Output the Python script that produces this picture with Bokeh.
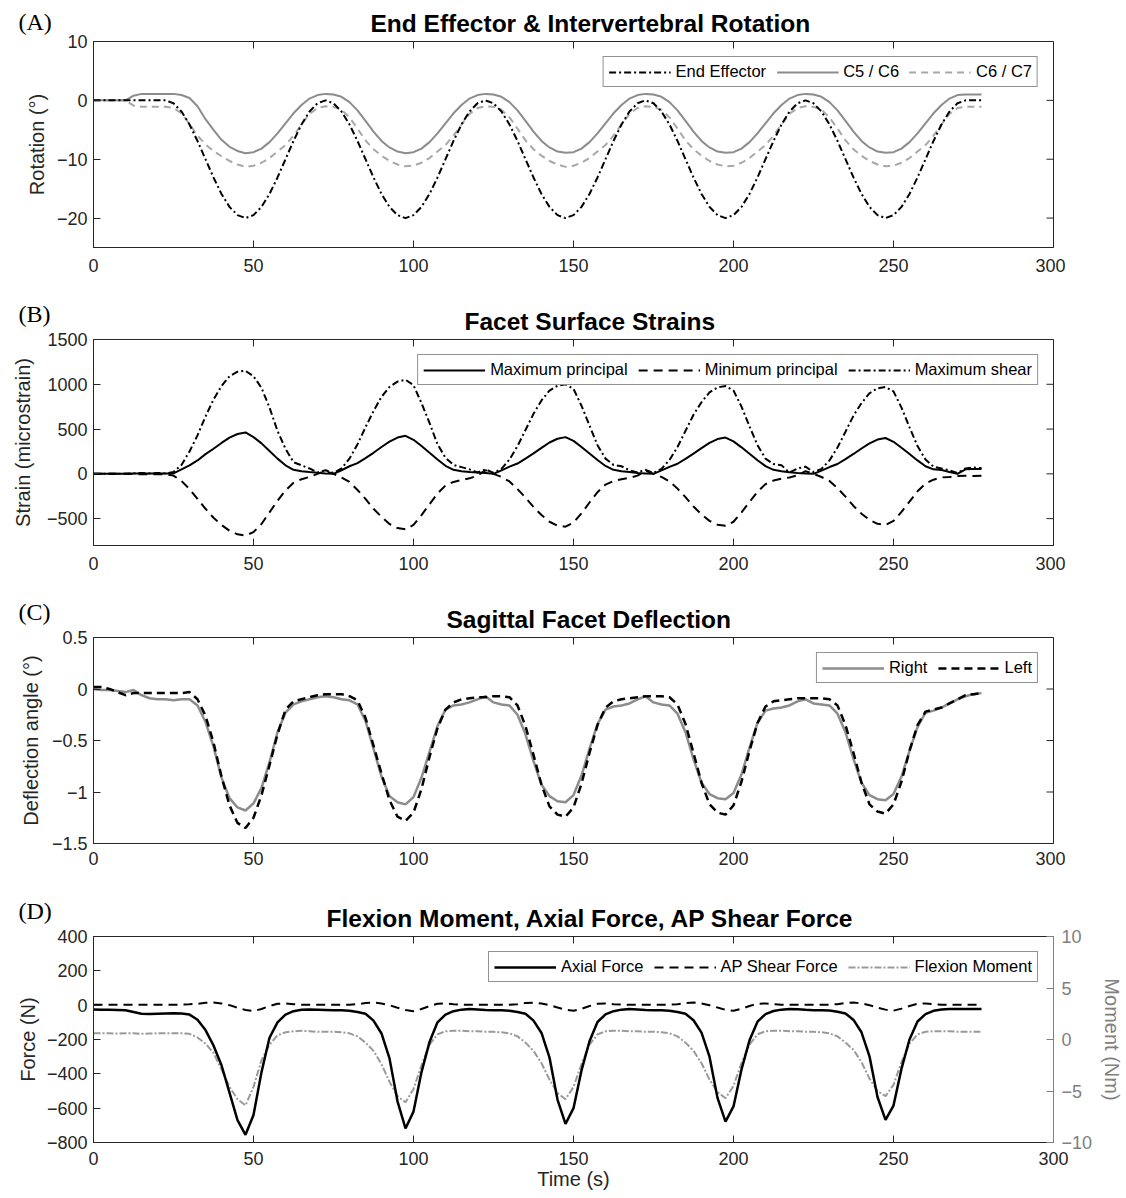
from bokeh.plotting import figure
from bokeh.models import (ColumnDataSource, Range1d, LinearAxis, FixedTicker,
                          Legend, LegendItem, Title)
from bokeh.layouts import column
from bokeh.embed import file_html
from bokeh.resources import INLINE

# ---------------- data ----------------
time_s = [0, 2.5, 5, 7.5, 10, 12.5, 15, 17.5, 20, 22.5,
          25, 27.5, 30, 32.5, 35, 37.5, 40, 42.5, 45, 47.5, 50, 52.5, 55, 57.5, 60, 62.5, 65, 67.5, 70, 72.5,
          75, 77.5, 80, 82.5, 85, 87.5, 90, 92.5, 95, 97.5, 100, 102.5, 105, 107.5, 110, 112.5, 115, 117.5, 120, 122.5,
          125, 127.5, 130, 132.5, 135, 137.5, 140, 142.5, 145, 147.5, 150, 152.5, 155, 157.5, 160, 162.5, 165, 167.5, 170, 172.5,
          175, 177.5, 180, 182.5, 185, 187.5, 190, 192.5, 195, 197.5, 200, 202.5, 205, 207.5, 210, 212.5, 215, 217.5, 220, 222.5,
          225, 227.5, 230, 232.5, 235, 237.5, 240, 242.5, 245, 247.5, 250, 252.5, 255, 257.5, 260, 262.5, 265, 267.5, 270, 272.5,
          275, 277.5]
x_ticks = [0, 50, 100, 150, 200, 250, 300]
x_tick_labels = ["0", "50", "100", "150", "200", "250", "300"]

# (A) rotation, degrees
rot_end_effector = [0, 0, 0, 0, 0, 0, 0, 0, 0, 0,
                    -0.5, -1.9, -4.1, -6.9, -10.0, -13.1, -15.9, -18.1, -19.5, -20.0, -19.5, -18.1, -15.9, -13.1, -10.0, -6.9, -4.1, -1.9, -0.5, 0.0,
                    -0.5, -1.9, -4.1, -6.9, -10.0, -13.1, -15.9, -18.1, -19.5, -20.0, -19.5, -18.1, -15.9, -13.1, -10.0, -6.9, -4.1, -1.9, -0.5, 0.0,
                    -0.5, -1.9, -4.1, -6.9, -10.0, -13.1, -15.9, -18.1, -19.5, -20.0, -19.5, -18.1, -15.9, -13.1, -10.0, -6.9, -4.1, -1.9, -0.5, 0.0,
                    -0.5, -1.9, -4.1, -6.9, -10.0, -13.1, -15.9, -18.1, -19.5, -20.0, -19.5, -18.1, -15.9, -13.1, -10.0, -6.9, -4.1, -1.9, -0.5, 0.0,
                    -0.5, -1.9, -4.1, -6.9, -10.0, -13.1, -15.9, -18.1, -19.5, -20.0, -19.5, -18.1, -15.9, -13.1, -10.0, -6.9, -4.1, -1.9, -0.5, 0.0,
                    0.0, 0.0]
rot_c5_c6 = [0, 0, 0, 0, 0, 0.8, 1.1, 1.1, 1.1, 1.1,
             1.1, 0.9, 0.4, -1.0, -3.2, -5.0, -6.7, -7.9, -8.6, -9.0, -8.8, -8.2, -7.1, -5.6, -3.9, -2.2, -0.8, 0.3, 0.9, 1.1,
             1.0, 0.6, -0.3, -1.7, -3.5, -5.3, -6.9, -8.0, -8.7, -9.0, -8.8, -8.2, -7.1, -5.6, -3.9, -2.2, -0.8, 0.3, 0.9, 1.1,
             1.0, 0.6, -0.3, -1.7, -3.5, -5.3, -6.9, -8.0, -8.7, -8.9, -8.8, -8.2, -7.1, -5.6, -3.9, -2.2, -0.8, 0.3, 0.9, 1.1,
             1.0, 0.6, -0.3, -1.7, -3.5, -5.3, -6.9, -8.0, -8.7, -8.9, -8.8, -8.2, -7.1, -5.6, -3.9, -2.2, -0.8, 0.3, 0.9, 1.1,
             1.0, 0.6, -0.3, -1.7, -3.5, -5.3, -6.9, -8.0, -8.7, -8.9, -8.8, -8.2, -7.1, -5.6, -3.9, -2.2, -0.8, 0.3, 0.9, 1.0,
             1.0, 1.0]
rot_c6_c7 = [0, 0, 0, 0, 0, -0.9, -1.1, -1.1, -1.1, -1.1,
             -1.3, -2.2, -4.0, -6.0, -7.5, -8.6, -9.5, -10.3, -10.9, -11.3, -11.1, -10.6, -9.8, -8.7, -7.6, -6.0, -4.1, -2.3, -1.3, -1.0,
             -1.1, -1.6, -2.9, -4.8, -6.8, -8.3, -9.4, -10.3, -10.9, -11.2, -11.1, -10.6, -9.8, -8.7, -7.6, -6.0, -4.1, -2.3, -1.3, -1.0,
             -1.1, -1.6, -2.9, -4.8, -6.8, -8.3, -9.4, -10.3, -10.9, -11.3, -11.1, -10.6, -9.8, -8.7, -7.6, -6.0, -4.1, -2.3, -1.3, -1.0,
             -1.1, -1.6, -2.9, -4.8, -6.8, -8.3, -9.4, -10.3, -10.9, -11.2, -11.1, -10.6, -9.8, -8.7, -7.6, -6.0, -4.1, -2.3, -1.3, -1.0,
             -1.1, -1.6, -2.9, -4.8, -6.8, -8.3, -9.4, -10.3, -10.9, -11.2, -11.1, -10.6, -9.8, -8.7, -7.6, -6.0, -4.1, -2.3, -1.3, -1.1,
             -1.1, -1.1]
rot_ticks = [-20, -10, 0, 10]
rot_tick_labels = ["\u221220", "\u221210", "0", "10"]

# (B) strains, microstrain
strain_max_principal = [0, 0, 0, 0, 0, 3, 5, 3, 5, 3,
                        5, 50, 95, 150, 220, 280, 345, 405, 445, 462, 410, 340, 255, 170, 95, 45, 30, 20, 12, 5,
                        0, 40, 85, 120, 175, 235, 300, 360, 405, 425, 380, 310, 235, 160, 90, 45, 30, 20, 15, 10,
                        0, 38, 80, 115, 170, 228, 290, 350, 392, 410, 368, 300, 228, 155, 88, 45, 30, 20, 10, 5,
                        0, 38, 78, 113, 168, 225, 287, 345, 388, 405, 362, 296, 225, 152, 86, 45, 30, 18, 10, 5,
                        0, 36, 76, 110, 165, 222, 283, 340, 383, 400, 358, 292, 222, 150, 85, 50, 42, 20, 0, 50,
                        55, 55]
strain_min_principal = [0, 0, 0, 0, 0, -3, -5, -3, -5, -3,
                        -20, -80, -170, -280, -390, -490, -570, -635, -675, -690, -650, -560, -430, -300, -185, -100, -60, -35, 0, 30,
                        0, -40, -90, -180, -280, -390, -480, -560, -605, -620, -570, -460, -340, -220, -130, -90, -70, -50, -20, 40,
                        0, -35, -85, -170, -265, -370, -460, -535, -578, -590, -545, -440, -320, -205, -120, -80, -60, -45, -20, 35,
                        0, -35, -85, -165, -260, -365, -452, -525, -568, -580, -535, -430, -315, -200, -115, -75, -55, -40, -15, 30,
                        0, -35, -80, -160, -255, -358, -445, -515, -558, -570, -525, -425, -310, -195, -110, -65, -40, -35, -25, -20,
                        -25, -20]
strain_max_shear = [0, 0, 0, 0, 0, 5, 10, 5, 10, 5,
                    20, 100, 250, 430, 640, 830, 980, 1090, 1140, 1150, 1090, 960, 740, 480, 280, 130, 95, 60, 15, 40,
                    10, 60, 170, 330, 520, 700, 860, 970, 1030, 1050, 990, 790, 570, 330, 180, 100, 75, 50, 15, 50,
                    10, 55, 160, 310, 490, 670, 820, 930, 985, 1000, 950, 760, 540, 320, 170, 100, 85, 40, 15, 45,
                    10, 55, 155, 300, 480, 660, 800, 910, 965, 980, 930, 750, 530, 320, 170, 110, 95, 15, 60, 80,
                    20, 55, 150, 295, 470, 650, 790, 900, 955, 970, 920, 740, 520, 310, 160, 80, 60, 40, 10, 60,
                    70, 65]
strain_ticks = [-500, 0, 500, 1000, 1500]
strain_tick_labels = ["\u2212500", "0", "500", "1000", "1500"]

# (C) sagittal facet deflection, degrees
defl_right = [0.00, -0.01, -0.01, -0.02, -0.03, -0.01, -0.06, -0.09, -0.10, -0.10,
              -0.11, -0.10, -0.10, -0.16, -0.32, -0.56, -0.86, -1.06, -1.15, -1.18, -1.11, -0.96, -0.71, -0.42, -0.23, -0.15, -0.12, -0.10, -0.08, -0.07,
              -0.08, -0.10, -0.11, -0.15, -0.31, -0.58, -0.85, -1.04, -1.10, -1.12, -1.05, -0.86, -0.61, -0.36, -0.20, -0.16, -0.15, -0.13, -0.10, -0.07,
              -0.13, -0.15, -0.16, -0.25, -0.44, -0.70, -0.93, -1.04, -1.09, -1.10, -1.03, -0.84, -0.58, -0.34, -0.20, -0.17, -0.16, -0.14, -0.10, -0.07,
              -0.13, -0.15, -0.16, -0.24, -0.42, -0.68, -0.91, -1.02, -1.06, -1.07, -1.01, -0.83, -0.57, -0.33, -0.21, -0.19, -0.18, -0.16, -0.12, -0.10,
              -0.14, -0.15, -0.16, -0.24, -0.42, -0.68, -0.91, -1.03, -1.07, -1.08, -1.02, -0.85, -0.60, -0.37, -0.23, -0.21, -0.18, -0.14, -0.10, -0.07,
              -0.05, -0.04]
defl_left = [0.02, 0.02, 0.00, -0.03, -0.06, -0.04, -0.04, -0.04, -0.04, -0.04,
             -0.04, -0.04, -0.03, -0.10, -0.26, -0.52, -0.85, -1.13, -1.30, -1.35, -1.25, -1.03, -0.74, -0.44, -0.20, -0.12, -0.10, -0.08, -0.06, -0.05,
             -0.05, -0.05, -0.07, -0.11, -0.28, -0.55, -0.82, -1.08, -1.24, -1.28, -1.20, -0.97, -0.66, -0.38, -0.20, -0.13, -0.10, -0.09, -0.08, -0.08,
             -0.07, -0.07, -0.08, -0.16, -0.36, -0.64, -0.93, -1.14, -1.22, -1.24, -1.15, -0.92, -0.62, -0.35, -0.18, -0.12, -0.10, -0.09, -0.08, -0.07,
             -0.07, -0.07, -0.08, -0.15, -0.34, -0.62, -0.91, -1.12, -1.20, -1.22, -1.13, -0.90, -0.60, -0.33, -0.17, -0.12, -0.11, -0.10, -0.09, -0.09,
             -0.09, -0.09, -0.10, -0.16, -0.35, -0.62, -0.91, -1.12, -1.19, -1.21, -1.12, -0.90, -0.60, -0.35, -0.22, -0.20, -0.18, -0.14, -0.10, -0.06,
             -0.05, -0.04]
defl_ticks = [-1.5, -1, -0.5, 0, 0.5]
defl_tick_labels = ["\u22121.5", "\u22121", "\u22120.5", "0", "0.5"]

# (D) forces (N) and moment (Nm)
axial_force = [-25, -26, -27, -28, -30, -40, -50, -52, -50, -48,
               -47, -48, -55, -85, -145, -235, -350, -510, -670, -755, -640, -390, -190, -100, -55, -35, -27, -25, -26, -28,
               -30, -30, -32, -40, -50, -90, -165, -310, -560, -718, -620, -390, -215, -100, -55, -35, -26, -22, -25, -28,
               -30, -30, -32, -40, -50, -90, -162, -305, -550, -692, -600, -380, -210, -98, -54, -35, -26, -22, -25, -28,
               -30, -30, -32, -40, -50, -88, -160, -300, -540, -678, -590, -375, -205, -96, -52, -34, -26, -22, -24, -27,
               -29, -29, -31, -38, -48, -86, -158, -298, -535, -668, -585, -370, -200, -95, -52, -33, -25, -22, -22, -23,
               -22, -22]
ap_shear_force = [3, 3, 3, 3, 3, 3, 3, 3, 3, 3,
                  3, 3, 5, 8, 14, 16, 10, 0, -15, -28, -35, -22, -5, 8, 10, 6, 3, 2, 2, 2,
                  2, 2, 3, 6, 12, 15, 10, 0, -15, -28, -35, -22, -5, 8, 10, 6, 3, 2, 2, 2,
                  2, 2, 3, 6, 12, 15, 10, 0, -14, -27, -33, -21, -5, 8, 10, 6, 3, 2, 2, 2,
                  2, 2, 3, 6, 12, 15, 10, 0, -14, -27, -33, -21, -5, 8, 10, 6, 3, 2, 2, 2,
                  2, 2, 3, 6, 12, 15, 10, 0, -14, -26, -32, -20, -5, 8, 10, 6, 3, 3, 3, 3,
                  3, 3]
flexion_moment = [0.6, 0.62, 0.6, 0.58, 0.6, 0.6, 0.55, 0.58, 0.6, 0.6,
                  0.6, 0.6, 0.55, 0.2, -0.4, -1.3, -2.9, -4.6, -5.8, -6.4, -4.6, -2.0, -0.5, 0.4, 0.7, 0.8, 0.85, 0.8, 0.75, 0.75,
                  0.75, 0.7, 0.6, 0.3, -0.3, -1.1, -2.4, -4.1, -5.5, -6.1, -4.8, -2.5, -0.5, 0.5, 0.8, 0.85, 0.85, 0.8, 0.8, 0.75,
                  0.75, 0.7, 0.6, 0.3, -0.3, -1.1, -2.3, -3.9, -5.2, -5.8, -4.6, -2.4, -0.5, 0.5, 0.8, 0.85, 0.85, 0.8, 0.8, 0.75,
                  0.75, 0.7, 0.6, 0.3, -0.3, -1.1, -2.3, -3.9, -5.1, -5.7, -4.5, -2.3, -0.5, 0.5, 0.8, 0.85, 0.85, 0.8, 0.8, 0.75,
                  0.75, 0.7, 0.6, 0.3, -0.3, -1.0, -2.2, -3.8, -5.0, -5.5, -4.4, -2.2, -0.4, 0.5, 0.75, 0.8, 0.8, 0.8, 0.75, 0.75,
                  0.75, 0.75]
force_ticks = [-800, -600, -400, -200, 0, 200, 400]
force_tick_labels = ["\u2212800", "\u2212600", "\u2212400", "\u2212200", "0", "200", "400"]
moment_ticks = [-10, -5, 0, 5, 10]
moment_tick_labels = ["\u221210", "\u22125", "0", "5", "10"]

# ---------------- styling helpers ----------------
FONT = "Liberation Sans"
AX = "#262626"
GREY_AX = "#808080"
BLACK = "#000000"
GREY1 = "#8c8c8c"
GREY2 = "#a8a8a8"
GREY3 = "#9a9a9a"
FRAME_W = 960
TICK_PX = 7


def style_axis(ax, ticks, labels, standoff, color=AX):
    ax.ticker = FixedTicker(ticks=ticks)
    ax.major_label_overrides = {t: l for t, l in zip(ticks, labels)}
    ax.major_tick_in = TICK_PX
    ax.major_tick_out = 0
    ax.minor_tick_in = 0
    ax.minor_tick_out = 0
    ax.axis_line_color = color
    ax.major_tick_line_color = color
    ax.major_label_text_font = FONT
    ax.major_label_text_color = color
    ax.major_label_standoff = standoff
    ax.major_label_text_font_size = "18px"
    ax.axis_label_text_font = FONT
    ax.axis_label_text_font_size = "20px"
    ax.axis_label_text_font_style = "normal"
    ax.axis_label_text_color = color


def make_panel(letter, letter_top, title, title_offset, yr, yticks, ylabels, ylabel, ylab_standoff,
               top, bottom, height, x_standoff, right_border=12, right_ticks=True):
    y0, y1 = yr
    p = figure(frame_width=FRAME_W, frame_height=height,
               x_range=Range1d(0, 300), y_range=Range1d(y0, y1),
               output_backend="svg", toolbar_location=None,
               min_border_left=93, min_border_right=right_border,
               min_border_top=top, min_border_bottom=bottom)
    # titles take no layout room (negative standoff); their text hangs
    # |standoff|/2 px above the top edge of the box
    p.title.text = title
    p.title.align = "left"
    p.title.offset = title_offset
    p.title.vertical_align = "top"
    p.title.standoff = -64
    p.title.text_font = FONT
    p.title.text_font_size = "24.5px"
    p.title.text_font_style = "bold"
    p.title.text_color = "black"
    p.add_layout(Title(text=letter, align="left", offset=-75, vertical_align="top",
                       standoff=-2 * letter_top, text_font="Liberation Serif",
                       text_font_size="24px", text_font_style="normal",
                       text_color="black"), "above")

    p.xgrid.visible = False
    p.ygrid.visible = False
    p.outline_line_color = AX
    p.outline_line_width = 1
    p.outline_line_alpha = 1

    style_axis(p.below[0], x_ticks, x_tick_labels, x_standoff)
    style_axis(p.left[0], yticks, ylabels, 6)
    p.left[0].axis_label = ylabel
    p.left[0].axis_label_standoff = ylab_standoff

    # inward tick marks on the top edge (and right edge) of the box
    dy = TICK_PX * (y1 - y0) / height
    n = len(x_ticks)
    p.segment(x0=x_ticks, y0=[y1] * n, x1=x_ticks, y1=[y1 - dy] * n,
              line_color=AX, line_width=1)
    if right_ticks:
        dx = TICK_PX * 300 / FRAME_W
        m = len(yticks)
        p.segment(x0=[300] * m, y0=yticks, x1=[300 - dx] * m, y1=yticks,
                  line_color=AX, line_width=1)
    return p


def add_legend(p, items):
    leg = Legend(items=[LegendItem(label=l, renderers=[r]) for l, r in items],
                 orientation="horizontal", location="top_right",
                 margin=15, padding=5, spacing=10, label_standoff=5,
                 glyph_width=62, glyph_height=16,
                 label_text_font=FONT, label_text_font_size="16.5px",
                 label_text_color="black",
                 border_line_color=AX, border_line_width=1,
                 background_fill_color="white", background_fill_alpha=1)
    p.add_layout(leg)


# ---------------- panel A ----------------
srcA = ColumnDataSource(dict(t=time_s, ee=rot_end_effector, c56=rot_c5_c6, c67=rot_c6_c7))
pA = make_panel("(A)", 33, "End Effector & Intervertebral Rotation", 277, (-25, 10),
                rot_ticks, rot_tick_labels, "Rotation (\u00b0)", 6,
                top=41, bottom=52, height=206, x_standoff=11)
rA3 = pA.line("t", "c67", source=srcA, line_color=GREY2, line_width=2, line_dash="7 5")
rA2 = pA.line("t", "c56", source=srcA, line_color=GREY1, line_width=2)
rA1 = pA.line("t", "ee", source=srcA, line_color=BLACK, line_width=2, line_dash="7 3 2 3")
add_legend(pA, [("End Effector", rA1), ("C5 / C6", rA2), ("C6 / C7", rA3)])

# ---------------- panel B ----------------
srcB = ColumnDataSource(dict(t=time_s, mx=strain_max_principal, mn=strain_min_principal, sh=strain_max_shear))
pB = make_panel("(B)", 39, "Facet Surface Strains", 371, (-800, 1500),
                strain_ticks, strain_tick_labels, "Strain (microstrain)", 10,
                top=40, bottom=52, height=206, x_standoff=11)
rB1 = pB.line("t", "mx", source=srcB, line_color=BLACK, line_width=2)
rB2 = pB.line("t", "mn", source=srcB, line_color=BLACK, line_width=2, line_dash="9 6")
rB3 = pB.line("t", "sh", source=srcB, line_color=BLACK, line_width=2, line_dash="7 3 2 3")
add_legend(pB, [("Maximum principal", rB1), ("Minimum principal", rB2), ("Maximum shear", rB3)])

# ---------------- panel C ----------------
srcC = ColumnDataSource(dict(t=time_s, r=defl_right, l=defl_left))
pC = make_panel("(C)", 39, "Sagittal Facet Deflection", 353, (-1.5, 0.5),
                defl_ticks, defl_tick_labels, "Deflection angle (\u00b0)", 7,
                top=40, bottom=53, height=206, x_standoff=8)
rC1 = pC.line("t", "r", source=srcC, line_color=GREY1, line_width=2.5)
rC2 = pC.line("t", "l", source=srcC, line_color=BLACK, line_width=2.5, line_dash="8 5")
add_legend(pC, [("Right", rC1), ("Left", rC2)])

# ---------------- panel D ----------------
srcD = ColumnDataSource(dict(t=time_s, ax=axial_force, ap=ap_shear_force, fm=flexion_moment))
pD = make_panel("(D)", 39, "Flexion Moment, Axial Force, AP Shear Force", 233, (-800, 400),
                force_ticks, force_tick_labels, "Force (N)", 5,
                top=40, bottom=52, height=206, x_standoff=9, right_border=70, right_ticks=False)
pD.below[0].axis_label = "Time (s)"
pD.below[0].axis_label_standoff = 0
pD.extra_y_ranges = {"moment": Range1d(-10, 10)}
rax = LinearAxis(y_range_name="moment")
style_axis(rax, moment_ticks, moment_tick_labels, 8, color=GREY_AX)
rax.axis_label = "Moment (Nm)"
rax.axis_label_standoff = 6
pD.add_layout(rax, "right")
rD3 = pD.line("t", "fm", source=srcD, y_range_name="moment", line_color=GREY3, line_width=2,
              line_dash="7 2 2 2")
rD2 = pD.line("t", "ap", source=srcD, line_color=BLACK, line_width=2, line_dash="9 6")
rD1 = pD.line("t", "ax", source=srcD, line_color=BLACK, line_width=2.5)
add_legend(pD, [("Axial Force", rD1), ("AP Shear Force", rD2), ("Flexion Moment", rD3)])

layout = column(pA, pB, pC, pD, spacing=0)
open("out.html", "w").write(file_html(layout, INLINE))
